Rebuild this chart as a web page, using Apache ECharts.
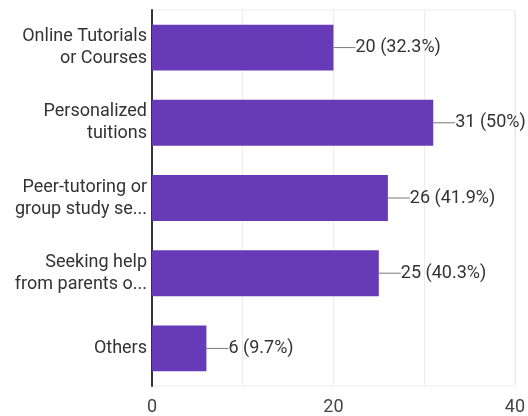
<!DOCTYPE html>
<html>
<head>
<meta charset="utf-8">
<style>
  html, body { margin: 0; padding: 0; background: #fff; }
  #chart { width: 528px; height: 416px; }
</style>
<script src="https://cdn.jsdelivr.net/npm/echarts@6/dist/echarts.min.js"></script>
</head>
<body>
<div id="chart"></div>
<script>
// Responses per study-help option
const categories = [
  'Online Tutorials\nor Courses',
  'Personalized\ntuitions',
  'Peer-tutoring or\ngroup study se...',
  'Seeking help\nfrom parents o...',
  'Others'
];
const counts = [20, 31, 26, 25, 6];
const percents = ['32.3%', '50%', '41.9%', '40.3%', '9.7%'];
const tickLabels = [0, 20, 40];

const chart = echarts.init(document.getElementById('chart'), null, { renderer: 'canvas' });

chart.setOption({
  backgroundColor: '#ffffff',
  animation: false,
  grid: {
    left: 152, right: 9, top: 10, bottom: 30,
    show: true, borderColor: '#ececec', borderWidth: 1
  },
  xAxis: {
    type: 'value',
    min: 0, max: 40, interval: 10,
    axisLine: { show: false },
    axisTick: { show: false },
    splitLine: { lineStyle: { color: '#ececec', width: 1 } },
    axisLabel: {
      margin: 12,
      fontFamily: 'Roboto',
      fontSize: 18,
      color: '#444',
      formatter: v => (tickLabels.indexOf(v) >= 0 ? String(v) : '')
    }
  },
  yAxis: {
    type: 'category',
    inverse: true,
    data: categories,
    axisLine: { show: true, lineStyle: { color: '#333', width: 2 } },
    axisTick: { show: false },
    axisLabel: {
      margin: 5,
      fontFamily: 'Roboto',
      fontSize: 18,
      lineHeight: 22,
      color: '#333',
      align: 'right'
    }
  },
  series: [{
    type: 'bar',
    data: counts,
    barWidth: '61%',
    itemStyle: { color: '#673ab7' },
    label: {
      show: true,
      position: 'right',
      distance: 0,
      // short leader line, then "count (share)"
      formatter: p => '{line|}{txt|' + p.value + ' (' + percents[p.dataIndex] + ')}',
      rich: {
        line: { width: 22, height: 1, backgroundColor: '#777' },
        txt: { fontFamily: 'Roboto', fontSize: 18, color: '#333' }
      }
    }
  }]
});
</script>
</body>
</html>
